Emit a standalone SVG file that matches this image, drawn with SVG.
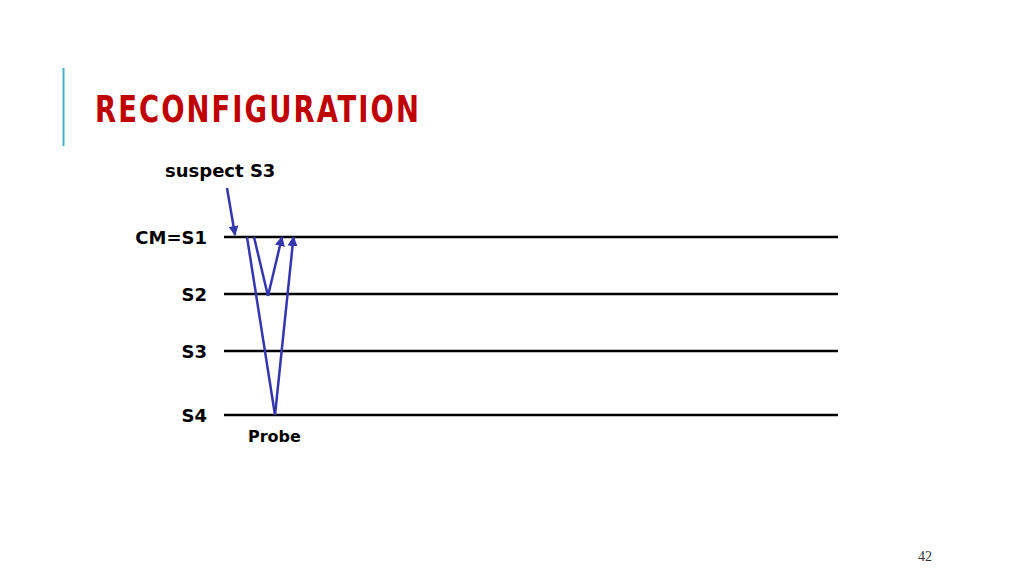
<svg xmlns="http://www.w3.org/2000/svg" width="1024" height="576" viewBox="0 0 1024 576">
<style>
.lbl{font-family:"Comic Sans MS","DejaVu Sans",sans-serif;font-weight:bold;font-size:18px;fill:#000}
.tl{stroke:#000;stroke-width:2.5}
.msg{stroke:#3535AD;stroke-width:2.5;fill:none}
</style>
<defs>
<marker id="ah" viewBox="0 0 10 10" refX="9" refY="5" markerWidth="4" markerHeight="4" orient="auto" markerUnits="strokeWidth">
<path d="M0,0 L10,5 L0,10 z" fill="#3535AD"/>
</marker>
</defs>
<rect width="1024" height="576" fill="#fff"/>
<line x1="63.5" y1="68" x2="63.5" y2="146" stroke="#4BACC6" stroke-width="2"/>
<text x="95" y="122" font-family="'DejaVu Sans Condensed','DejaVu Sans',sans-serif" font-stretch="condensed" font-weight="bold" font-size="37" letter-spacing="2.5" fill="#C00000" textLength="326" lengthAdjust="spacingAndGlyphs">RECONFIGURATION</text>
<g id="timelines">
<g id="cm"><line class="tl" x1="224" y1="237" x2="838" y2="237"/><text class="lbl" x="207" y="244" text-anchor="end">CM=S1</text></g>
<g id="s2"><line class="tl" x1="224" y1="294" x2="838" y2="294"/><text class="lbl" x="207" y="301" text-anchor="end">S2</text></g>
<g id="s3"><line class="tl" x1="224" y1="351" x2="838" y2="351"/><text class="lbl" x="207" y="358" text-anchor="end">S3</text></g>
<g id="s4"><line class="tl" x1="224" y1="415" x2="838" y2="415"/><text class="lbl" x="207" y="422" text-anchor="end">S4</text></g>
</g>
<g id="suspect"><text class="lbl" x="165" y="177" style="font-size:18px">suspect S3</text></g>
<g id="probe"><text class="lbl" x="248" y="442" style="font-size:16px">Probe</text></g>
<g id="connectors">
<line class="msg" x1="227" y1="188" x2="235" y2="235" marker-end="url(#ah)"/>
<line class="msg" x1="247" y1="237" x2="275" y2="415"/>
<line class="msg" x1="254" y1="237" x2="268" y2="296"/>
<line class="msg" x1="268" y1="296" x2="282" y2="237" marker-end="url(#ah)"/>
<line class="msg" x1="275" y1="415" x2="293.5" y2="237" marker-end="url(#ah)"/>
</g>
<text x="925" y="561" font-family="'Liberation Serif',serif" font-size="14" fill="#333" text-anchor="middle">42</text>
</svg>
